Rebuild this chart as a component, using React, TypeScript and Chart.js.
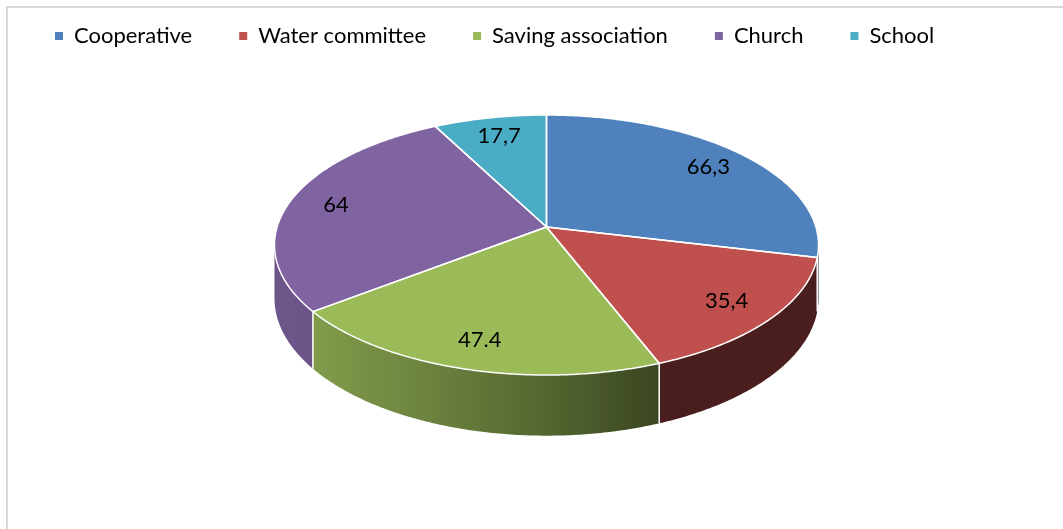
import React, { useEffect, useRef } from "react";
import { Chart, registerables } from "chart.js";

Chart.register(...registerables);

// ---- data ----
const categories = ["Cooperative", "Water committee", "Saving association", "Church", "School"];
const values = [66.3, 35.4, 47.4, 64, 17.7];
const valueLabels = ["66,3", "35,4", "47.4", "64", "17,7"];
const colors = ["#4F81BD", "#C0504D", "#9BBB59", "#8064A2", "#4BACC6"];

// ---- 3D view / style parameters ----
const VIEW = {
  sx: 1,
  sy: 0.4733,
  k: -0.1385, // perspective factor (far side smaller)
  depth: 0.194, // wall height relative to radius
  labelR: 0.82,
  lightAngle: (160 * Math.PI) / 180,
  ambient: 0.38,
  diffuse: 0.47,
  edge: "#ffffff",
  edgeWidth: 1.5,
  font: "22px Lato",
};

function shade(hex: string, f: number) {
  const n = parseInt(hex.slice(1), 16);
  const r = Math.min(255, Math.round(((n >> 16) & 255) * f));
  const g = Math.min(255, Math.round(((n >> 8) & 255) * f));
  const b = Math.min(255, Math.round((n & 255) * f));
  return `rgb(${r},${g},${b})`;
}

const pie3d = {
  id: "pie3d",
  beforeDatasetsDraw(chart: any) {
    const ctx: CanvasRenderingContext2D = chart.ctx;
    const arcs = chart.getDatasetMeta(0).data as any[];
    if (!arcs.length) return false;
    const { x: cx, y: cy, outerRadius: R } = arcs[0].getProps(["x", "y", "outerRadius"], true);

    const proj = (a: number, rho: number) => {
      const u = rho * Math.cos(a);
      const v = rho * Math.sin(a);
      const den = 1 + VIEW.k * v;
      return { x: cx + (R * VIEW.sx * u) / den, y: cy + (R * VIEW.sy * v) / den, d: (R * VIEW.depth) / den };
    };
    const aMin = Math.asin(-VIEW.k);
    const aMax = Math.PI - aMin;
    const light = (a: number) => VIEW.ambient + VIEW.diffuse * Math.max(0, Math.cos(a - VIEW.lightAngle));

    ctx.save();
    ctx.lineJoin = "round";

    // side walls
    arcs.forEach((arc: any) => {
      const { startAngle, endAngle } = arc.getProps(["startAngle", "endAngle"], true);
      const color = arc.options.backgroundColor as string;
      const a0 = Math.max(startAngle, aMin);
      const a1 = Math.min(endAngle, aMax);
      if (a1 <= a0) return;
      const n = Math.max(2, Math.ceil((a1 - a0) / 0.01));
      const pts = [] as { x: number; y: number; d: number }[];
      for (let j = 0; j <= n; j++) pts.push(proj(a0 + ((a1 - a0) * j) / n, 1));
      ctx.beginPath();
      pts.forEach((p, j) => (j ? ctx.lineTo(p.x, p.y) : ctx.moveTo(p.x, p.y)));
      for (let j = n; j >= 0; j--) ctx.lineTo(pts[j].x, pts[j].y + pts[j].d);
      ctx.closePath();
      const xa = pts[0].x;
      const xb = pts[n].x;
      if (Math.abs(xb - xa) < 1) {
        ctx.fillStyle = shade(color, light((a0 + a1) / 2));
      } else {
        const grad = ctx.createLinearGradient(xa, 0, xb, 0);
        const steps = 16;
        for (let s = 0; s <= steps; s++) {
          const a = a0 + ((a1 - a0) * s) / steps;
          const p = proj(a, 1);
          const t = Math.min(1, Math.max(0, (p.x - xa) / (xb - xa)));
          grad.addColorStop(t, shade(color, light(a)));
        }
        ctx.fillStyle = grad;
      }
      ctx.fill();
    });

    // wall seams
    ctx.strokeStyle = VIEW.edge;
    ctx.lineWidth = VIEW.edgeWidth;
    arcs.forEach((arc: any) => {
      const { startAngle } = arc.getProps(["startAngle"], true);
      if (startAngle > aMin && startAngle < aMax) {
        const p = proj(startAngle, 1);
        ctx.beginPath();
        ctx.moveTo(p.x, p.y);
        ctx.lineTo(p.x, p.y + p.d);
        ctx.stroke();
      }
    });

    // top faces
    const paths: Path2D[] = [];
    arcs.forEach((arc: any) => {
      const { startAngle, endAngle } = arc.getProps(["startAngle", "endAngle"], true);
      const path = new Path2D();
      path.moveTo(cx, cy);
      const n = Math.max(2, Math.ceil((endAngle - startAngle) / 0.01));
      for (let j = 0; j <= n; j++) {
        const p = proj(startAngle + ((endAngle - startAngle) * j) / n, 1);
        path.lineTo(p.x, p.y);
      }
      path.closePath();
      ctx.fillStyle = arc.options.backgroundColor;
      ctx.fill(path);
      paths.push(path);
    });
    paths.forEach((p) => ctx.stroke(p));

    // value labels
    ctx.fillStyle = "#000";
    ctx.font = VIEW.font;
    ctx.textAlign = "center";
    ctx.textBaseline = "middle";
    arcs.forEach((arc: any, i: number) => {
      const { startAngle, endAngle } = arc.getProps(["startAngle", "endAngle"], true);
      const p = proj((startAngle + endAngle) / 2, VIEW.labelR);
      ctx.fillText(valueLabels[i], p.x, p.y);
    });

    ctx.restore();
    return false;
  },
};

export default function App() {
  const ref = useRef<HTMLCanvasElement>(null);
  useEffect(() => {
    const canvas = ref.current!;
    const chart = new Chart(canvas, {
      type: "pie",
      data: {
        labels: categories,
        datasets: [
          {
            data: values,
            backgroundColor: colors,
            borderWidth: 0,
            radius: 269.4,
          } as any,
        ],
      },
      options: {
        responsive: false,
        animation: false,
        devicePixelRatio: 1,
        events: [],
        layout: { padding: { left: 8, right: 0, top: -22, bottom: 132 } },
        plugins: {
          legend: {
            position: "top",
            align: "start",
            labels: {
              boxWidth: 8,
              boxHeight: 8,
              padding: 47,
              color: "#000",
              font: { family: "Lato", size: 22 },
            },
          },
          tooltip: { enabled: false },
        },
      } as any,
      plugins: [pie3d as any],
    });
    return () => chart.destroy();
  }, []);

  return (
    <div style={{ position: "fixed", left: 0, top: 0, right: 0, bottom: 0, overflow: "hidden", background: "#fff" }}>
      <div
        style={{
          position: "absolute",
          left: 6,
          top: 6,
          width: 1200,
          height: 700,
          borderLeft: "2px solid #d9d9d9",
          borderTop: "2px solid #d9d9d9",
        }}
      />
      <canvas ref={ref} width={1085} height={529} style={{ position: "absolute", left: 0, top: 0 }} />
    </div>
  );
}
